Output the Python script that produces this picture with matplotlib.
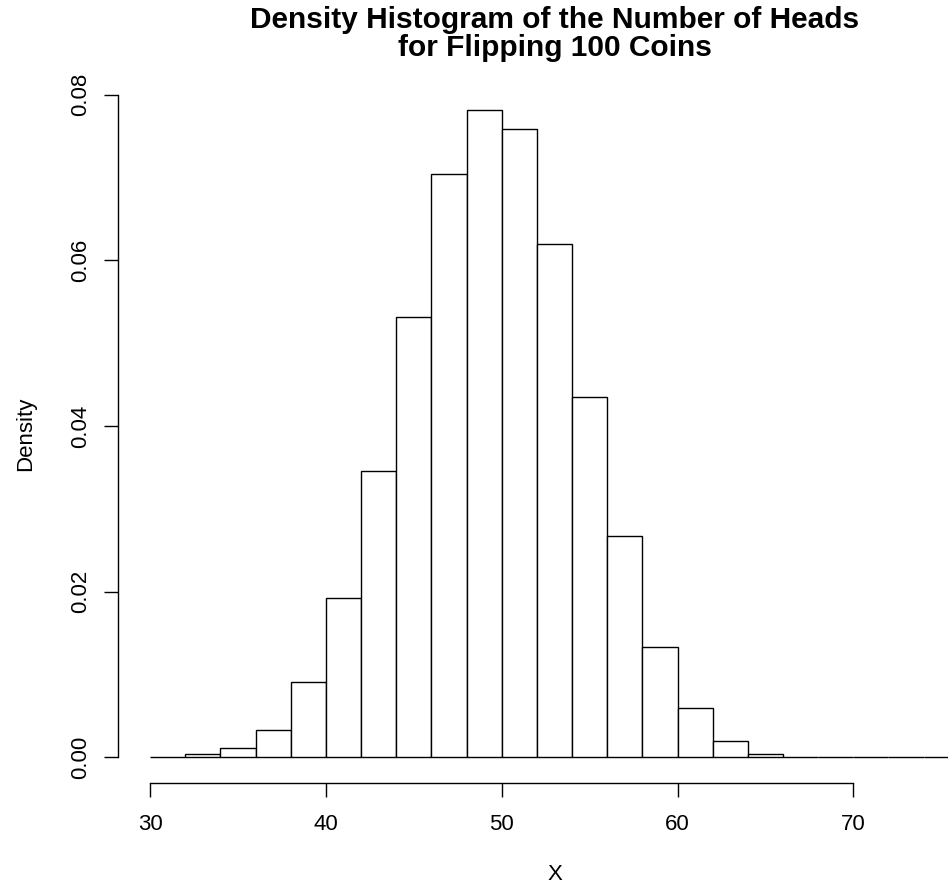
import matplotlib
matplotlib.use('Agg')
import matplotlib.pyplot as plt

plt.rcParams['font.family'] = ['Liberation Sans', 'DejaVu Sans']

# histogram of heads in 100 coin flips, bins of width 2
bin_left = [30, 32, 34, 36, 38, 40, 42, 44, 46, 48, 50, 52, 54, 56, 58, 60, 62, 64, 66, 68, 70, 72, 74]
density = [0.0001, 0.00036, 0.0011, 0.0033, 0.0091, 0.0192, 0.0346, 0.0532, 0.0704, 0.0781,
           0.0759, 0.0620, 0.0435, 0.0267, 0.0133, 0.0060, 0.0020, 0.00044, 0.0001, 0.0, 0.0, 0.0, 0.0]
x_ticks = [30, 40, 50, 60, 70]
y_ticks = [0.00, 0.02, 0.04, 0.06, 0.08]
y_tick_labels = ['0.00', '0.02', '0.04', '0.06', '0.08']

fig = plt.figure(figsize=(9.48, 8.85), dpi=100)
# plot region runs past the right edge of the picture (it was cropped)
ax = fig.add_axes([0.1242, 0.1149, 0.9213, 0.7893])

ax.bar(bin_left, density, width=2, align='edge', facecolor='white',
       edgecolor='black', linewidth=1.0)

ax.set_xlim(28.16, 77.84)
ax.set_ylim(-0.00312, 0.0812)

for s in ['top', 'right']:
    ax.spines[s].set_visible(False)
ax.spines['left'].set_bounds(0, 0.08)
ax.spines['bottom'].set_bounds(30, 70)
for s in ['left', 'bottom']:
    ax.spines[s].set_linewidth(1.0)

ax.set_xticks(x_ticks)
ax.set_xticklabels([str(t) for t in x_ticks])
ax.set_yticks(y_ticks)
ax.set_yticklabels(y_tick_labels, rotation=90, va='center')
ax.tick_params(direction='out', length=10, width=1.0, labelsize=16, pad=9)
ax.tick_params(axis='x', pad=12)

ax.set_xlabel('X', fontsize=16)
ax.set_ylabel('Density', fontsize=16)
ax.xaxis.set_label_coords(0.5, -0.116)
ax.yaxis.set_label_coords(-0.094, 0.5)

ax.set_title('Density Histogram of the Number of Heads\nfor Flipping 100 Coins',
             fontsize=21.5, fontweight='bold', pad=21, linespacing=1.0)

fig.savefig('out.png', dpi=100)
